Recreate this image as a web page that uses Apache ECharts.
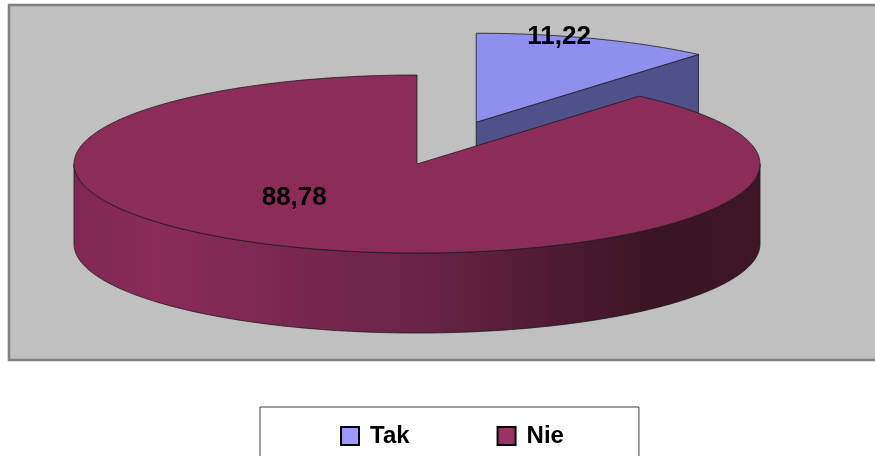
<!DOCTYPE html>
<html>
<head>
<meta charset="utf-8">
<script src="https://cdn.jsdelivr.net/npm/echarts@6/dist/echarts.min.js"></script>
<style>
  html, body { margin: 0; padding: 0; background: #ffffff; }
  #chart { width: 875px; height: 456px; }
</style>
</head>
<body>
<div id="chart"></div>
<script>
// Survey answers (percent)
const categories = ['Tak', 'Nie'];
const values = [11.22, 88.78];

// Styling for each slice (legend colour, lit top face, darker walls)
const legendColors = ['#9999FF', '#993366'];
const topColors = ['#8F8FEE', '#8C2D59'];
const cutColors = ['#50508A', '#5A1D3A'];
const nieWall = {
  type: 'linear', x: 0, y: 0, x2: 1, y2: 0,
  colorStops: [
    { offset: 0.00, color: '#7F2752' },
    { offset: 0.12, color: '#8A2B5A' },
    { offset: 0.50, color: '#6A2446' },
    { offset: 0.85, color: '#3A1424' },
    { offset: 1.00, color: '#3F1628' }
  ]
};
const fontFamily = '"Liberation Sans", Arial, sans-serif';

// 3D pie geometry (tilted ellipse + extruded wall)
const pie = { cx: 417, cy: 164, rx: 343, ry: 89, depth: 80 };
const explode = [0.5, 0];
const labelPlacement = [{ r: 0.986, da: -6 }, { r: 0.52, da: 23.3 }];

function sliceAngles(i) {
  const total = values.reduce((a, b) => a + b, 0);
  let start = 0;
  for (let k = 0; k < i; k++) start += values[k] / total * 360;
  return [start, start + values[i] / total * 360];
}
function pt(cx, cy, deg, dy) {
  const t = deg * Math.PI / 180;
  return [cx + pie.rx * Math.sin(t), cy - pie.ry * Math.cos(t) + (dy || 0)];
}
function arcPts(cx, cy, a0, a1, dy) {
  const n = Math.max(2, Math.ceil(Math.abs(a1 - a0) / 0.5));
  const out = [];
  for (let j = 0; j <= n; j++) out.push(pt(cx, cy, a0 + (a1 - a0) * j / n, dy));
  return out;
}
function fmt(v) { return v.toFixed(2).replace('.', ','); }

function makeRender(i) {
  return function (params, api) {
    const v = api.value(0);
    const [a0, a1] = sliceAngles(i);
    const mid = (a0 + a1) / 2;
    const t = mid * Math.PI / 180;
    const e = explode[i];
    const cx = pie.cx + e * pie.rx * Math.sin(t);
    const cy = pie.cy - e * pie.ry * Math.cos(t);
    const d = pie.depth;
    const line = { stroke: '#1a1a1a', lineWidth: 0.8 };
    const children = [];

    // radial cut faces that turn toward the viewer
    const faces = [];
    if (Math.sin(a0 * Math.PI / 180) < -1e-6) faces.push(a0);
    if (Math.sin(a1 * Math.PI / 180) > 1e-6) faces.push(a1);
    faces.forEach(a => {
      const p = pt(cx, cy, a, 0);
      children.push({
        type: 'polygon',
        shape: { points: [[cx, cy], p, [p[0], p[1] + d], [cx, cy + d]] },
        style: Object.assign({ fill: cutColors[i] }, line)
      });
    });

    // outer wall on the front half
    const f0 = Math.max(a0, 90), f1 = Math.min(a1, 270);
    if (f1 > f0) {
      const pts = arcPts(cx, cy, f0, f1, 0).concat(arcPts(cx, cy, f1, f0, d));
      children.push({
        type: 'polygon',
        shape: { points: pts },
        style: Object.assign({ fill: i === 1 ? nieWall : cutColors[i] }, line)
      });
    }

    // top face
    const topPts = [[cx, cy]].concat(arcPts(cx, cy, a0, a1, 0));
    children.push({
      type: 'polygon',
      shape: { points: topPts },
      style: Object.assign({ fill: topColors[i] }, line)
    });

    // value label
    const lp = labelPlacement[i];
    const la = (mid + lp.da) * Math.PI / 180;
    children.push({
      type: 'text',
      z2: 100,
      style: {
        text: fmt(v),
        x: cx + lp.r * pie.rx * Math.sin(la),
        y: cy - lp.r * pie.ry * Math.cos(la),
        align: 'center', verticalAlign: 'middle',
        fontFamily: fontFamily, fontWeight: 'bold', fontSize: 26, fill: '#000000'
      }
    });

    return { type: 'group', children: children };
  };
}

const chart = echarts.init(document.getElementById('chart'), null, { renderer: 'canvas' });
chart.setOption({
  animation: false,
  backgroundColor: '#ffffff',
  graphic: [{
    type: 'rect', z: -10, silent: true,
    shape: { x: 9, y: 5, width: 890, height: 355 },
    style: { fill: '#C0C0C0', stroke: '#808080', lineWidth: 2.5 }
  }],
  legend: {
    data: categories,
    left: 260, top: 407,
    padding: [17, 75, 40, 80],
    itemGap: 87,
    itemWidth: 18, itemHeight: 18,
    icon: 'rect',
    borderColor: '#404040', borderWidth: 1,
    backgroundColor: '#ffffff',
    itemStyle: { borderColor: '#000000', borderWidth: 2 },
    textStyle: { fontFamily: fontFamily, fontWeight: 'bold', fontSize: 24, color: '#000000', padding: [0, 0, 0, 6] }
  },
  series: categories.map((name, i) => ({
    type: 'custom',
    name: name,
    coordinateSystem: 'none',
    silent: true,
    itemStyle: { color: legendColors[i] },
    data: [[values[i]]],
    renderItem: makeRender(i)
  }))
});
</script>
</body>
</html>
